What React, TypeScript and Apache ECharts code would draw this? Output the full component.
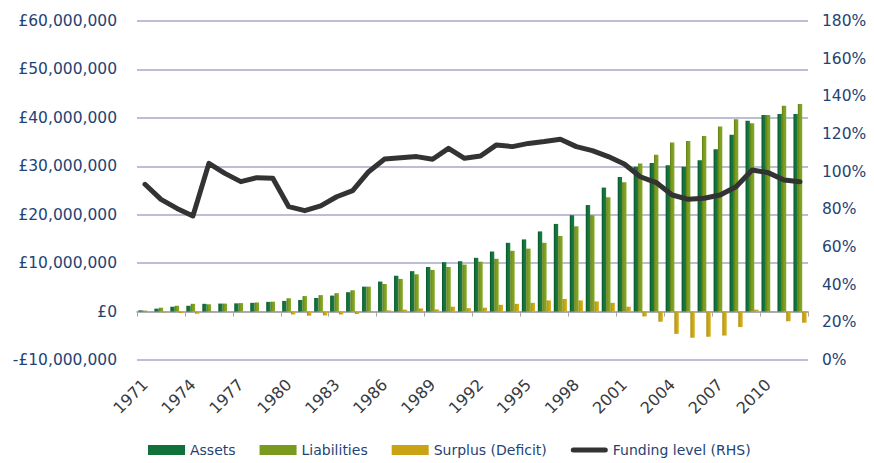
import React, { useEffect, useRef } from "react";
import * as echarts from "echarts";

const years: string[] = [];
for (let y = 1971; y <= 2012; y++) years.push(String(y));

// £ millions
const assets = [0.25, 0.6, 1.0, 1.2, 1.6, 1.65, 1.7, 1.8, 2.0, 2.2, 2.4, 2.8, 3.3, 4.0, 5.15, 6.2, 7.4, 8.35, 9.2, 10.2, 10.4, 11.1, 12.4, 14.2, 14.9, 16.55, 18.1, 19.9, 22.0, 25.6, 27.8, 29.9, 30.7, 30.2, 29.9, 31.25, 33.5, 36.5, 39.4, 40.6, 40.8, 40.8];
const liabilities = [0.2, 0.8, 1.2, 1.6, 1.5, 1.65, 1.75, 1.85, 2.05, 2.75, 3.2, 3.4, 3.8, 4.4, 5.15, 5.7, 6.75, 7.7, 8.6, 9.2, 9.7, 10.3, 10.9, 12.55, 13.0, 14.2, 15.6, 17.6, 19.9, 23.6, 26.7, 30.6, 32.4, 34.9, 35.2, 36.25, 38.2, 39.7, 38.9, 40.6, 42.5, 42.85];
const surplus = [0.05, -0.2, -0.3, -0.45, 0.1, 0.0, -0.05, -0.05, -0.05, -0.6, -0.85, -0.8, -0.6, -0.5, 0.1, 0.25, 0.4, 0.65, 0.45, 1.0, 0.7, 0.8, 1.4, 1.6, 1.8, 2.3, 2.6, 2.3, 2.1, 1.8, 1.0, -1.0, -2.1, -4.6, -5.4, -5.2, -4.95, -3.2, 0.4, -0.1, -2.0, -2.3];
// %
const fundingLevel = [93.3, 85.3, 80.5, 76.5, 104.4, 99.1, 94.7, 96.8, 96.5, 81.4, 79.3, 81.8, 86.7, 89.9, 100, 106.7, 107.4, 108, 106.6, 112.4, 107.1, 108.3, 114.2, 113.3, 115, 116, 117.2, 113.3, 111.2, 108, 104.1, 97.3, 94.2, 87.6, 85.3, 85.9, 87.6, 92, 100.9, 99.5, 95.6, 94.7];

const FONT = "DejaVu Sans";
const TEXT = "#1f4374";
const XTEXT = "#3a3a3a";

export default function App() {
  const ref = useRef<HTMLDivElement>(null);
  useEffect(() => {
    if (!ref.current) return;
    const chart = echarts.init(ref.current, undefined, { renderer: "svg" });
    const fmtMoney = (v: number) => {
      const abs = Math.round(Math.abs(v) * 1e6);
      const s = abs.toString().replace(/\B(?=(\d{3})+(?!\d))/g, ",");
      return (v < 0 ? "-" : "") + "£" + s;
    };
    chart.setOption({
      animation: false,
      textStyle: { fontFamily: FONT },
      grid: { left: 137, right: 66, top: 21, bottom: 103, containLabel: false },
      legend: {
        bottom: 1,
        left: 143,
        itemWidth: 37,
        itemHeight: 10,
        itemGap: 24,
        textStyle: { fontFamily: FONT, fontSize: 14, color: TEXT },
        data: [
          { name: "Assets", icon: "rect", itemStyle: { color: "#12703a" } },
          { name: "Liabilities", icon: "rect", itemStyle: { color: "#7a9a1e" } },
          { name: "Surplus (Deficit)", icon: "rect", itemStyle: { color: "#c9a314" } },
          {
            name: "Funding level (RHS)",
            icon: "path://M2.5,0 H34.5 A2.5,2.5 0 0 1 34.5,5 H2.5 A2.5,2.5 0 0 1 2.5,0 Z",
            itemStyle: { color: "#333333" },
          },
        ],
      },
      xAxis: [
        {
          type: "category",
          data: years,
          position: "bottom",
          axisLine: { show: false, onZero: false },
          axisTick: { show: false },
          axisLabel: {
            interval: 2,
            rotate: 45,
            margin: 22,
            fontSize: 16,
            fontFamily: FONT,
            color: XTEXT,
          },
        },
        {
          type: "category",
          data: years,
          position: "bottom",
          axisLine: { show: true, onZero: true, onZeroAxisIndex: 0, lineStyle: { color: "#a6a6a6", width: 1.5 } },
          axisTick: { show: true, length: 5, lineStyle: { color: "#a6a6a6" } },
          axisLabel: { show: false },
        },
      ],
      yAxis: [
        {
          type: "value",
          min: -10,
          max: 60,
          interval: 10,
          axisLine: { show: false },
          axisTick: { show: false },
          splitLine: { show: true, lineStyle: { color: "#a7a7c9", width: 1.5 } },
          axisLabel: {
            formatter: fmtMoney,
            margin: 20,
            fontSize: 15.5,
            fontFamily: FONT,
            color: TEXT,
          },
        },
        {
          type: "value",
          min: 0,
          max: 180,
          interval: 20,
          position: "right",
          axisLine: { show: false },
          axisTick: { show: false },
          splitLine: { show: false },
          axisLabel: {
            formatter: "{value}%",
            margin: 14,
            fontSize: 15.5,
            fontFamily: FONT,
            color: TEXT,
          },
        },
      ],
      series: [
        {
          name: "Assets",
          type: "bar",
          data: assets,
          barCategoryGap: "18%",
          barGap: "0%",
          itemStyle: {
            color: new echarts.graphic.LinearGradient(0, 0, 1, 0, [
              { offset: 0, color: "#0b4f27" },
              { offset: 0.35, color: "#12703a" },
              { offset: 1, color: "#168140" },
            ]),
          },
        },
        {
          name: "Liabilities",
          type: "bar",
          data: liabilities,
          barGap: "0%",
          itemStyle: {
            color: new echarts.graphic.LinearGradient(0, 0, 1, 0, [
              { offset: 0, color: "#5f7a14" },
              { offset: 0.35, color: "#7a9a1e" },
              { offset: 1, color: "#86a824" },
            ]),
          },
        },
        {
          name: "Surplus (Deficit)",
          type: "bar",
          data: surplus,
          barGap: "0%",
          itemStyle: {
            color: new echarts.graphic.LinearGradient(0, 0, 1, 0, [
              { offset: 0, color: "#a88607" },
              { offset: 0.35, color: "#c9a314" },
              { offset: 1, color: "#d4ae1c" },
            ]),
          },
        },
        {
          name: "Funding level (RHS)",
          type: "line",
          yAxisIndex: 1,
          data: fundingLevel,
          symbol: "none",
          smooth: false,
          z: 5,
          itemStyle: { color: "#333333" },
          lineStyle: { color: "#333333", width: 5, cap: "round", join: "round" },
        },
      ],
    });
    return () => chart.dispose();
  }, []);
  return <div ref={ref} style={{ width: 874, height: 463, position: "absolute", left: 0, top: 0 }} />;
}
